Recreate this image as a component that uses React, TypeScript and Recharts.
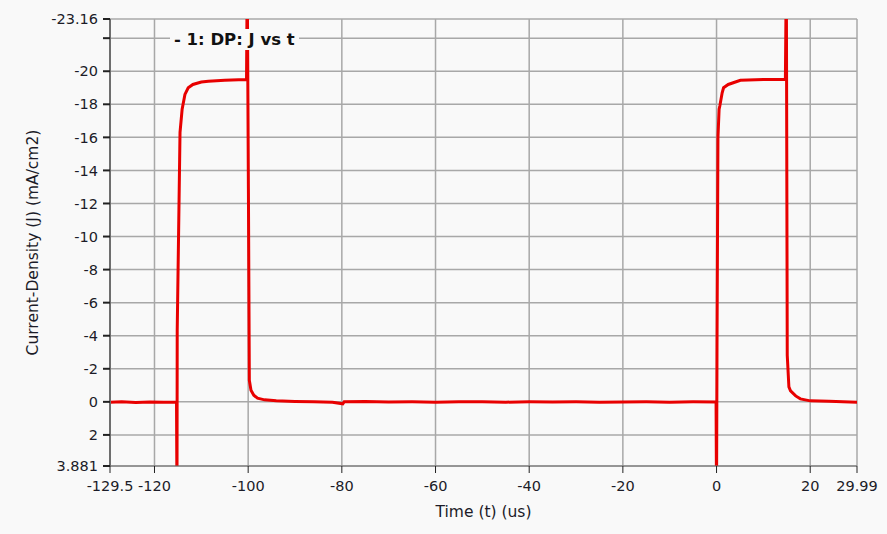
import React from 'react';
import { LineChart, Line, XAxis, YAxis, CartesianGrid } from 'recharts';

// time (us) and current density (mA/cm2)
const times = [
  -129.5, -127, -124, -121, -118, -116, -115.3,
  -115.2, -115.15, -114.9, -114.55, -114.1, -113.5, -112.8, -111.8, -110, -108.5, -105, -102, -100.35,
  -100.2, -99.95, -99.75, -99.4, -98.8, -98, -96.5, -94, -90,
  -86, -82, -79.8, -79.5, -75, -70, -65, -60, -55, -50, -45, -40, -35, -30, -25, -20, -15, -10, -5, -0.1,
  0.0, 0.1, 0.3, 0.55, 0.7, 1.2, 1.5, 2.5, 5.1, 10, 14.7,
  14.9, 15.1, 15.45, 15.8, 16.9, 17.9, 20, 24, 27, 29.99,
];
const density = [
  0.03, 0.0, 0.04, 0.01, 0.03, 0.02, 0.02,
  6, -4.3, -9.3, -16.3, -17.7, -18.6, -19.0, -19.2, -19.35, -19.4, -19.45, -19.48, -19.5,
  -26, -12.9, -1.3, -0.7, -0.4, -0.22, -0.12, -0.06, -0.02,
  0.0, 0.02, 0.12, 0.0, -0.02, 0.01, 0.0, 0.02, 0.0, -0.01, 0.02, 0.0, 0.01, 0.0, 0.02, 0.01, 0.0, 0.02, 0.0, 0.01,
  6, -3.3, -16.0, -17.7, -17.9, -18.7, -19.0, -19.2, -19.45, -19.5, -19.5,
  -26, -2.8, -0.9, -0.67, -0.36, -0.18, -0.06, -0.03, 0.0, 0.02,
];

const xTicks = [-129.5, -120, -100, -80, -60, -40, -20, 0, 20, 29.99];
const yTicks = [-23.16, -22, -20, -18, -16, -14, -12, -10, -8, -6, -4, -2, 0, 2, 3.881];

const data = times.map((t, i) => ({ t, j: density[i] }));

const font = '"DejaVu Sans", sans-serif';
const bg = '#f9f9f9';
const ink = '#1c1c28';

export default function App() {
  return (
    <div style={{ position: 'absolute', left: 0, top: 0, width: 887, height: 534, background: bg, fontFamily: font }}>
      <LineChart width={887} height={534} data={data} margin={{ top: 19, right: 30, bottom: 0, left: 0 }}>
        <CartesianGrid stroke="#a8a8a8" strokeWidth={1.5} fill={bg} />
        <XAxis
          dataKey="t"
          type="number"
          domain={[-129.5, 29.99]}
          ticks={xTicks}
          interval={0}
          allowDataOverflow
          height={68}
          tickSize={7}
          stroke="#6e6e6e"
          tick={{ fill: ink, fontSize: 14.5, fontFamily: font, dy: 6 }}
          tickLine={{ stroke: '#222' }}
          label={{ value: 'Time (t) (us)', position: 'insideBottom', offset: 17, fill: ink, fontSize: 15.5, fontFamily: font }}
        />
        <YAxis
          type="number"
          reversed
          domain={[-23.16, 3.881]}
          ticks={yTicks}
          interval={0}
          allowDataOverflow
          width={110}
          tickSize={7}
          stroke="#6e6e6e"
          strokeWidth={2}
          tickFormatter={(v: number) => (v === -22 ? '' : String(v))}
          tick={{ fill: ink, fontSize: 14.5, fontFamily: font, dx: -3 }}
          tickLine={{ stroke: '#222' }}
          label={{
            value: 'Current-Density (J) (mA/cm2)',
            angle: -90,
            position: 'insideLeft',
            offset: 32,
            fill: ink,
            fontSize: 15.5,
            fontFamily: font,
            style: { textAnchor: 'middle' },
          }}
        />
        <Line
          dataKey="j"
          type="linear"
          stroke="#e80000"
          strokeWidth={3}
          dot={false}
          isAnimationActive={false}
        />
      </LineChart>
      <div
        style={{
          position: 'absolute',
          left: 170,
          top: 29,
          padding: '0 4px',
          background: bg,
          fontWeight: 'bold',
          fontSize: 16.5,
          lineHeight: '21px',
          color: '#111',
        }}
      >
        - 1: DP: J vs t
      </div>
    </div>
  );
}
